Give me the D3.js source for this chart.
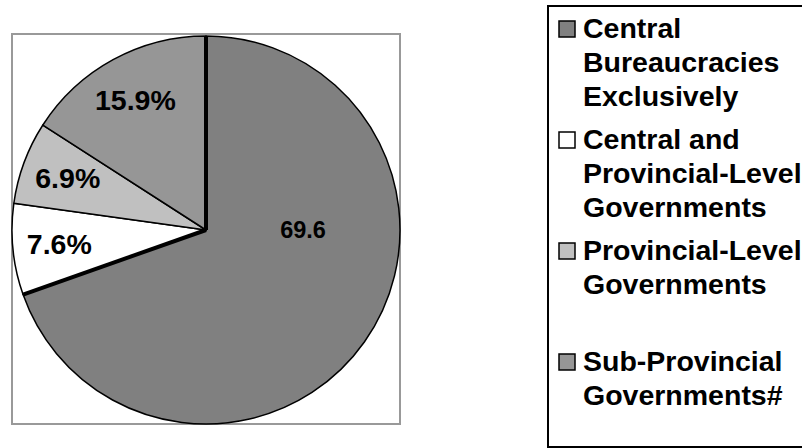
<!DOCTYPE html>
<html lang="en">
<head>
  <meta charset="UTF-8">
  <title>Pie chart</title>
  <script src="https://d3js.org/d3.v7.min.js"></script>
  <style>
    body { margin: 0; background: #fff; }
    text { font-family: "Liberation Sans", Arial, sans-serif; font-weight: bold; }
  </style>
</head>
<body>
  <svg width="802" height="448"></svg>
  <script>
    // data
    const categories = [
      "Central Bureaucracies Exclusively",
      "Central and Provincial-Level Governments",
      "Provincial-Level Governments",
      "Sub-Provincial Governments#"
    ];
    const values = [69.6, 7.6, 6.9, 15.9];
    const sliceLabels = ["69.6", "7.6%", "6.9%", "15.9%"];
    const legendLines = [
      ["Central", "Bureaucracies", "Exclusively"],
      ["Central and", "Provincial-Level", "Governments"],
      ["Provincial-Level", "Governments"],
      ["Sub-Provincial", "Governments#"]
    ];
    const colors = ["#808080", "#ffffff", "#c0c0c0", "#969696"];

    const svg = d3.select("svg");

    // plot area frame
    svg.append("rect")
      .attr("x", 12).attr("y", 34)
      .attr("width", 388).attr("height", 390)
      .attr("fill", "none")
      .attr("stroke", "#999")
      .attr("stroke-width", 2);

    const cx = 206, cy = 230, radius = 194;
    const color = d3.scaleOrdinal().domain(categories).range(colors);

    const pie = d3.pie().sort(null).value(d => d.value);
    const arcs = pie(categories.map((c, i) => ({ name: c, value: values[i], label: sliceLabels[i] })));

    const arc = d3.arc().innerRadius(0).outerRadius(radius);
    const labelArc = d3.arc().innerRadius(radius * 0.76).outerRadius(radius * 0.76);

    const g = svg.append("g").attr("transform", `translate(${cx},${cy})`);

    g.selectAll("path.slice")
      .data(arcs)
      .join("path")
      .attr("class", "slice")
      .attr("d", arc)
      .attr("fill", d => color(d.data.name))
      .attr("stroke", "#000")
      .attr("stroke-width", 1.5)
      .attr("stroke-linejoin", "round");

    // heavier edges on the big slice
    const big = arcs[0];
    [big.startAngle, big.endAngle].forEach(a => {
      g.append("line")
        .attr("x1", 0).attr("y1", 0)
        .attr("x2", radius * Math.sin(a))
        .attr("y2", -radius * Math.cos(a))
        .attr("stroke", "#000")
        .attr("stroke-width", 4)
        .attr("stroke-linecap", "butt");
    });

    g.selectAll("text.lbl")
      .data(arcs)
      .join("text")
      .attr("class", "lbl")
      .attr("transform", (d, i) => {
        if (i === 0) return `translate(${radius * 0.5},0)`;
        const [x, y] = labelArc.centroid(d);
        return `translate(${x},${y})`;
      })
      .attr("text-anchor", "middle")
      .attr("dy", "0.33em")
      .attr("font-size", (d, i) => i === 0 ? 23.5 : 28.5)
      .attr("fill", "#000")
      .text(d => d.data.label);

    // legend
    svg.append("rect")
      .attr("x", 548).attr("y", 6)
      .attr("width", 300).attr("height", 441)
      .attr("fill", "#fff")
      .attr("stroke", "#000")
      .attr("stroke-width", 2);

    const itemY = d3.scalePoint().domain(categories).range([38, 371]);
    const lineH = 34;

    const item = svg.append("g").selectAll("g")
      .data(categories)
      .join("g")
      .attr("transform", d => `translate(0,${itemY(d)})`);

    item.append("rect")
      .attr("x", 559).attr("y", -17)
      .attr("width", 16).attr("height", 16)
      .attr("fill", d => color(d))
      .attr("stroke", "#000")
      .attr("stroke-width", 1.5);

    item.append("text")
      .attr("x", 583)
      .attr("font-size", 28.5)
      .attr("fill", "#000")
      .selectAll("tspan")
      .data((d, i) => legendLines[i])
      .join("tspan")
      .attr("x", 583)
      .attr("y", (d, j) => j * lineH)
      .text(d => d);
  </script>
</body>
</html>
